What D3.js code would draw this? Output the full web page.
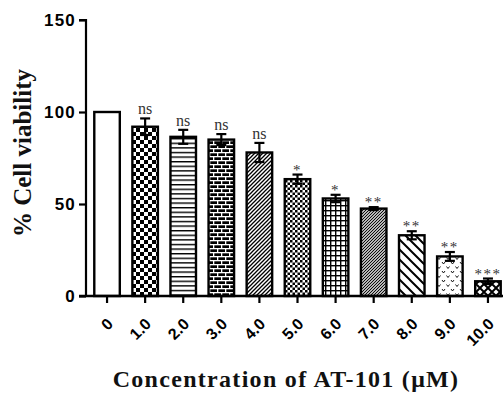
<!DOCTYPE html>
<html>
<head>
<meta charset="utf-8">
<script src="https://cdn.jsdelivr.net/npm/d3@7"></script>
<style>
  body { margin: 0; background: #fff; }
</style>
</head>
<body>
<div id="chart"></div>
<script>
// data
const doses = ['0', '1.0', '2.0', '3.0', '4.0', '5.0', '6.0', '7.0', '8.0', '9.0', '10.0'];
const viability = [100, 92, 86.5, 85, 78, 63.5, 53, 47.5, 33, 21.5, 8];
const sem = [0, 4.5, 3.8, 3, 5.2, 2.5, 2, 0.8, 2.2, 2.4, 1.5];
const signif = ['', 'ns', 'ns', 'ns', 'ns', '*', '*', '**', '**', '**', '***'];
const yTicks = [0, 50, 100, 150];
const patternIds = ['none', 'checker', 'hlines', 'brick', 'diag', 'smallcheck', 'grid', 'finediag', 'backdiag', 'vdots', 'diamond'];

const width = 503, height = 394;

const svg = d3.select('#chart').append('svg').attr('width', width).attr('height', height);
const defs = svg.append('defs');

// fill patterns
function pat(id, w, h, bg) {
  const p = defs.append('pattern').attr('id', id).attr('patternUnits', 'userSpaceOnUse')
    .attr('width', w).attr('height', h);
  p.append('rect').attr('width', w).attr('height', h).attr('fill', bg);
  return p;
}
let p;
p = pat('checker', 8, 8, '#fff');
p.append('rect').attr('width', 4).attr('height', 4).attr('fill', '#000');
p.append('rect').attr('x', 4).attr('y', 4).attr('width', 4).attr('height', 4).attr('fill', '#000');

p = pat('hlines', 4, 4.6, '#fff');
p.append('rect').attr('y', 0).attr('width', 4).attr('height', 1.4).attr('fill', '#000');

p = pat('brick', 8, 8, '#000');
p.append('rect').attr('y', 0).attr('width', 8).attr('height', 1.3).attr('fill', '#fff');
p.append('rect').attr('y', 4).attr('width', 8).attr('height', 1.3).attr('fill', '#fff');
p.append('rect').attr('x', 1).attr('y', 0).attr('width', 1.3).attr('height', 4).attr('fill', '#fff');
p.append('rect').attr('x', 5).attr('y', 4).attr('width', 1.3).attr('height', 4).attr('fill', '#fff');

p = pat('diag', 4, 4, '#fff');
p.append('path').attr('d', 'M-1,1 l2,-2 M0,4 l4,-4 M3,5 l2,-2').attr('stroke', '#000').attr('stroke-width', 1.3);

p = pat('smallcheck', 5, 5, '#fff');
p.append('rect').attr('width', 2.5).attr('height', 2.5).attr('fill', '#000');
p.append('rect').attr('x', 2.5).attr('y', 2.5).attr('width', 2.5).attr('height', 2.5).attr('fill', '#000');

p = pat('grid', 5, 5, '#fff');
p.append('rect').attr('width', 5).attr('height', 1.4).attr('fill', '#000');
p.append('rect').attr('width', 1.4).attr('height', 5).attr('fill', '#000');

p = pat('finediag', 3, 3, '#fff');
p.append('path').attr('d', 'M-1,1 l2,-2 M0,3 l3,-3 M2,4 l2,-2').attr('stroke', '#000').attr('stroke-width', 1.1);

p = pat('backdiag', 10, 10, '#fff');
p.append('path').attr('d', 'M-1,-1 l12,12 M-1,9 l2,2 M9,-1 l2,2').attr('stroke', '#000').attr('stroke-width', 2);

p = pat('vdots', 9, 9, '#fff');
p.append('path').attr('d', 'M1,1 l1.5,2 l1.5,-2 M5.5,5.5 l1.5,2 l1.5,-2').attr('stroke', '#000').attr('stroke-width', 0.9).attr('fill', 'none');

p = pat('diamond', 8, 8, '#fff');
p.append('path').attr('d', 'M0,0 L8,8 M8,0 L0,8').attr('stroke', '#000').attr('stroke-width', 2);

const x = d3.scaleBand().domain(doses).range([88, 507]).paddingInner(0.33).paddingOuter(0.165);
const y = d3.scaleLinear().domain([0, 150]).range([296, 20]);

// bars
svg.selectAll('rect.bar').data(doses).enter().append('rect')
  .attr('class', 'bar')
  .attr('x', d => x(d))
  .attr('y', (d, i) => y(viability[i]))
  .attr('width', x.bandwidth())
  .attr('height', (d, i) => y(0) - y(viability[i]))
  .attr('fill', (d, i) => patternIds[i] === 'none' ? '#fff' : `url(#${patternIds[i]})`)
  .attr('stroke', '#000')
  .attr('stroke-width', 2.4);

// error bars
const eb = svg.selectAll('g.err').data(doses).enter().append('g').attr('class', 'err')
  .filter((d, i) => sem[i] > 0);
eb.append('line')
  .attr('x1', d => x(d) + x.bandwidth() / 2).attr('x2', d => x(d) + x.bandwidth() / 2)
  .attr('y1', d => y(viability[doses.indexOf(d)] - sem[doses.indexOf(d)]))
  .attr('y2', d => y(viability[doses.indexOf(d)] + sem[doses.indexOf(d)]))
  .attr('stroke', '#000').attr('stroke-width', 2.2);
[1, -1].forEach(s => {
  eb.append('line')
    .attr('x1', d => x(d) + x.bandwidth() / 2 - 5).attr('x2', d => x(d) + x.bandwidth() / 2 + 5)
    .attr('y1', d => y(viability[doses.indexOf(d)] + s * sem[doses.indexOf(d)]))
    .attr('y2', d => y(viability[doses.indexOf(d)] + s * sem[doses.indexOf(d)]))
    .attr('stroke', '#000').attr('stroke-width', 2.2);
});

// significance labels
svg.selectAll('text.sig').data(doses).enter().append('text')
  .attr('class', 'sig')
  .attr('x', d => x(d) + x.bandwidth() / 2)
  .attr('y', (d, i) => y(viability[i] + sem[i]) - (signif[i] === 'ns' ? 4 : 0))
  .attr('text-anchor', 'middle')
  .attr('font-family', 'Liberation Serif, Times New Roman, serif')
  .attr('font-size', (d, i) => signif[i] === 'ns' ? 16 : 15)
  .attr('letter-spacing', (d, i) => signif[i] === 'ns' ? 0 : 1.5)
  .attr('fill', '#333')
  .text((d, i) => signif[i]);

// y axis
const yAxis = svg.append('g').attr('transform', 'translate(86,0)')
  .call(d3.axisLeft(y).tickValues(yTicks).tickSize(7).tickPadding(3));
yAxis.select('.domain').attr('stroke-width', 2.2).attr('d', 'M-7,20H0V296H-7');
yAxis.selectAll('.tick line').attr('stroke-width', 2.2);
yAxis.selectAll('.tick text')
  .attr('font-family', 'Liberation Sans, Arial, sans-serif')
  .attr('font-weight', 'bold').attr('font-size', 17).attr('letter-spacing', 1.2).attr('fill', '#000');

// x axis
const xAxis = svg.append('g').attr('transform', 'translate(0,296)')
  .call(d3.axisBottom(x).tickSize(7).tickPadding(4));
xAxis.select('.domain').attr('stroke-width', 2.4).attr('d', 'M79,0H503');
xAxis.selectAll('.tick line').attr('stroke-width', 2.2);
xAxis.selectAll('.tick text')
  .attr('font-family', 'Liberation Sans, Arial, sans-serif')
  .attr('font-weight', 'bold').attr('font-size', 16).attr('fill', '#000')
  .attr('text-anchor', 'end')
  .attr('x', 0).attr('y', 0).attr('dy', '0.35em')
  .attr('transform', 'translate(3,25) rotate(-45)');

// axis titles
svg.append('text')
  .attr('transform', 'translate(31,153) rotate(-90)')
  .attr('text-anchor', 'middle')
  .attr('font-family', 'Liberation Serif, Times New Roman, serif')
  .attr('font-weight', 'bold').attr('font-size', 25).attr('fill', '#111')
  .text('% Cell viability');

svg.append('text')
  .attr('x', 286).attr('y', 387)
  .attr('text-anchor', 'middle')
  .attr('font-family', 'Liberation Serif, Times New Roman, serif')
  .attr('font-weight', 'bold').attr('font-size', 24).attr('letter-spacing', 1.3).attr('fill', '#111')
  .text('Concentration of AT-101 (μM)');
</script>
</body>
</html>
